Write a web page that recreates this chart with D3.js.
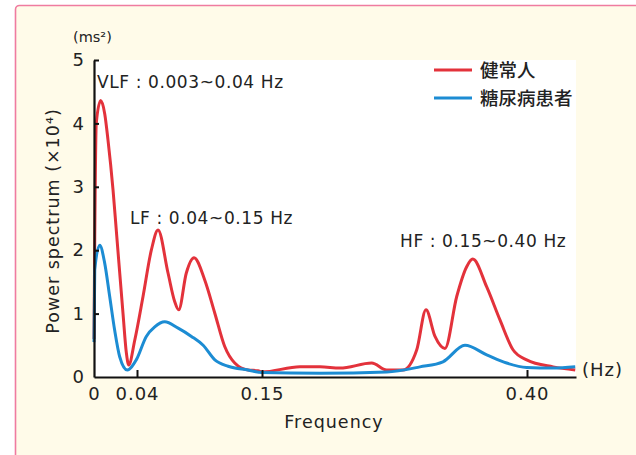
<!DOCTYPE html>
<html lang="ja">
<head>
<meta charset="UTF-8">
<title>Power spectrum</title>
<script src="https://cdn.jsdelivr.net/npm/d3@7"></script>
<style>
    body { margin: 0; background: #fff; }
    svg { display: block; }
    text { font-family: "DejaVu Sans", "Liberation Sans", sans-serif; fill: #222; }
    .cjk { font-family: "Noto Sans CJK JP", sans-serif; font-weight: 500; }
</style>
</head>
<body>
<div id="chart"></div>
<script>
    // series names
    var seriesNames = ["健常人", "糖尿病患者"];

    // healthy (red)
    var healthyFreq = [0, 0.0007, 0.0021, 0.0062, 0.0100, 0.0130, 0.0177, 0.0208, 0.0270, 0.0301, 0.0323, 0.0379,
        0.0453, 0.0526, 0.0585, 0.0673, 0.0730, 0.0767, 0.0834, 0.0902, 0.0996, 0.1084, 0.1172, 0.1260, 0.1377,
        0.1465, 0.1500, 0.1858, 0.2047, 0.2236, 0.2535, 0.2676, 0.2830, 0.2960, 0.3047, 0.3132, 0.3226, 0.3337,
        0.3431, 0.3488, 0.3620, 0.3745, 0.3868, 0.3997, 0.4245, 0.4453];
    var healthyPower = [0.6, 2.2, 4.0, 4.36, 4.15, 3.74, 2.95, 2.3, 1.0, 0.38, 0.19, 0.58,
        1.27, 2.0, 2.32, 1.64, 1.2, 1.06, 1.64, 1.88, 1.53, 1.01, 0.48, 0.22, 0.11,
        0.10, 0.08, 0.16, 0.16, 0.14, 0.22, 0.11, 0.11, 0.43, 1.06, 0.64, 0.45, 1.27,
        1.74, 1.86, 1.42, 0.9, 0.43, 0.27, 0.16, 0.11];

    // diabetic (blue)
    var diabeticFreq = [0, 0.0007, 0.0053, 0.0099, 0.0146, 0.0192, 0.0239, 0.0310, 0.0393, 0.0482, 0.0556, 0.0644,
        0.0762, 0.0879, 0.0982, 0.1085, 0.1202, 0.1377, 0.1500, 0.2047, 0.2676, 0.2990, 0.3207, 0.3415,
        0.3620, 0.3808, 0.3997, 0.4245, 0.4453];
    var diabeticPower = [0.55, 1.69, 2.08, 1.8, 1.27, 0.74, 0.32, 0.11, 0.27, 0.64, 0.79, 0.87,
        0.77, 0.64, 0.5, 0.27, 0.17, 0.11, 0.07, 0.06, 0.08, 0.16, 0.24, 0.5,
        0.35, 0.22, 0.15, 0.14, 0.16];

    // ticks
    var xTicks = [0, 0.04, 0.15, 0.40];
    var xTickLabels = ["0", "0.04", "0.15", "0.40"];
    var yTicks = [0, 1, 2, 3, 4, 5];

    var bandLabels = ["VLF : 0.003~0.04 Hz", "LF : 0.04~0.15 Hz", "HF : 0.15~0.40 Hz"];

    var width = 636;
    var height = 455;
    var colors = ["#e3323b", "#1c8cd3"];

    var svg = d3.select("#chart")
                .append("svg")
                .attr("width", width)
                .attr("height", height);

    // cream panel with pink border
    svg.append("rect")
        .attr("x", 15.5).attr("y", 5.5)
        .attr("width", 640).attr("height", 470)
        .attr("rx", 4)
        .attr("fill", "#fffbe9")
        .attr("stroke", "#ef7ba0")
        .attr("stroke-width", 1.6);

    // the drawing is not to scale, so the x scale goes piece by piece between ticks
    var xScale = d3.scaleLinear()
                    .domain([0, 0.04, 0.15, 0.40, 0.446])
                    .range([94, 137, 262, 527, 576]);

    var yScale = d3.scaleLinear()
                    .domain([0, 5])
                    .range([377, 60]);

    // white plot area
    svg.append("rect")
        .attr("x", xScale(0)).attr("y", yScale(5))
        .attr("width", xScale(0.446) - xScale(0))
        .attr("height", yScale(0) - yScale(5))
        .attr("fill", "#fff");

    // curves
    var line = d3.line()
                .x(function(d){ return xScale(d[0]); })
                .y(function(d){ return yScale(d[1]); })
                .curve(d3.curveMonotoneX);

    var series = [
        d3.zip(healthyFreq, healthyPower),
        d3.zip(diabeticFreq, diabeticPower)
    ];

    svg.selectAll("path.curve")
        .data(series)
        .join("path")
        .attr("class", "curve")
        .attr("d", line)
        .attr("fill", "none")
        .attr("stroke", function(d, i){ return colors[i]; })
        .attr("stroke-width", 3)
        .attr("stroke-linejoin", "round");

    // axes
    var yAxis = svg.append("g")
        .attr("transform", "translate(" + xScale(0) + ",0)")
        .call(d3.axisLeft(yScale).tickValues(yTicks).tickSizeInner(-5).tickSizeOuter(0).tickPadding(9).tickFormat(d3.format("d")));

    var xAxis = svg.append("g")
        .attr("transform", "translate(0," + yScale(0) + ")")
        .call(d3.axisBottom(xScale).tickValues(xTicks).tickSizeInner(-7).tickSizeOuter(0).tickPadding(10)
            .tickFormat(function(d, i){ return xTickLabels[i]; }));

    svg.selectAll(".domain").attr("stroke", "#111").attr("stroke-width", 2.2);
    svg.selectAll(".tick line").attr("stroke", "#111").attr("stroke-width", 2);
    svg.selectAll(".tick text")
        .attr("font-family", "DejaVu Sans, sans-serif")
        .attr("font-size", 18)
        .attr("letter-spacing", 1)
        .attr("fill", "#222");
    // 0 ticks sit on the other axis line
    yAxis.selectAll(".tick line").filter(function(d){ return d === 0; }).remove();
    xAxis.selectAll(".tick line").filter(function(d){ return d === 0; }).remove();

    // axis titles
    svg.append("text")
        .attr("transform", "translate(59,221) rotate(-90)")
        .attr("text-anchor", "middle")
        .attr("font-size", 17.5)
        .attr("letter-spacing", 1)
        .text("Power spectrum  (×10⁴)");

    svg.append("text")
        .attr("x", 334).attr("y", 428)
        .attr("text-anchor", "middle")
        .attr("font-size", 17.5)
        .attr("letter-spacing", 1)
        .text("Frequency");

    svg.append("text")
        .attr("x", 73).attr("y", 42)
        .attr("font-size", 14.5)
        .text("(ms²)");

    svg.append("text")
        .attr("x", 582).attr("y", 376)
        .attr("font-size", 18)
        .attr("letter-spacing", 1)
        .text("(Hz)");

    // band labels
    var bandPos = [[97, 88], [130, 224], [400, 247]];
    svg.selectAll("text.band")
        .data(bandLabels)
        .join("text")
        .attr("class", "band")
        .attr("x", function(d, i){ return bandPos[i][0]; })
        .attr("y", function(d, i){ return bandPos[i][1]; })
        .attr("font-size", 17)
        .attr("letter-spacing", 0.6)
        .text(function(d){ return d; });

    // legend
    var legend = svg.selectAll("g.legend")
        .data(seriesNames)
        .join("g")
        .attr("class", "legend")
        .attr("transform", function(d, i){ return "translate(434," + (70 + i * 28) + ")"; });

    legend.append("line")
        .attr("x1", 0).attr("x2", 38)
        .attr("stroke", function(d, i){ return colors[i]; })
        .attr("stroke-width", 3);

    legend.append("text")
        .attr("class", "cjk")
        .attr("x", 46)
        .attr("dy", "0.36em")
        .attr("font-size", 18.5)
        .text(function(d){ return d; });
</script>
</body>
</html>
